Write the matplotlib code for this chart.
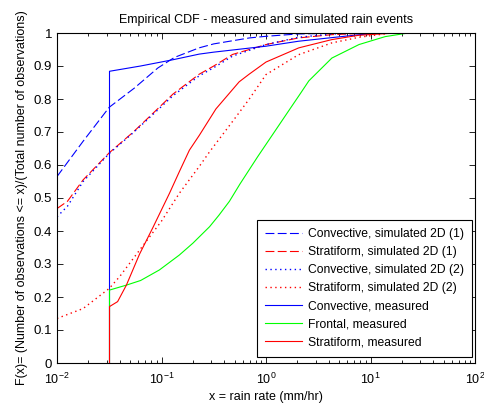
import numpy as np
import matplotlib
matplotlib.use("Agg")
import matplotlib.pyplot as plt
from matplotlib.ticker import FixedLocator, FormatStrFormatter, LogLocator, NullFormatter

plt.rcParams['font.family'] = ['Liberation Sans', 'DejaVu Sans']
plt.rcParams['mathtext.fontset'] = 'custom'
plt.rcParams['mathtext.rm'] = 'Liberation Sans'
plt.rcParams['mathtext.it'] = 'Liberation Sans:italic'
plt.rcParams['mathtext.bf'] = 'Liberation Sans:bold'

# log10 of rain rate, and F(x) values
x0 = 0.0318  # measured curves start here

conv_sim1_lx = [-2.0, -1.75, -1.5, -1.26, -1.035, -0.876, -0.64, -0.5, -0.16, 0.0, 0.3, 0.6, 1.0]
conv_sim1_y = [0.565, 0.672, 0.775, 0.833, 0.894, 0.926, 0.955, 0.967, 0.985, 0.99, 0.997, 0.999, 1.0]

strat_sim1_lx = [-2.0, -1.9, -1.75, -1.5, -1.27, -1.11, -0.89, -0.64, -0.5, -0.32, 0.0, 0.31, 0.63, 1.0]
strat_sim1_y = [0.468, 0.49, 0.555, 0.637, 0.70, 0.748, 0.815, 0.875, 0.90, 0.935, 0.965, 0.985, 0.995, 1.0]

conv_sim2_lx = [-2.0, -1.9, -1.75, -1.5, -1.27, -1.11, -0.89, -0.64, -0.5, -0.32, 0.0, 0.31, 0.63, 0.9]
conv_sim2_y = [0.443, 0.475, 0.55, 0.635, 0.698, 0.745, 0.81, 0.87, 0.895, 0.93, 0.965, 0.987, 0.997, 1.0]

strat_sim2_lx = [-2.0, -1.75, -1.5, -1.4, -1.21, -1.0, -0.83, -0.64, -0.54, -0.32, -0.16, 0.0, 0.31, 0.63, 0.89, 1.2]
strat_sim2_y = [0.135, 0.165, 0.226, 0.262, 0.342, 0.43, 0.514, 0.595, 0.64, 0.732, 0.80, 0.874, 0.934, 0.97, 0.987, 1.0]

conv_meas_lx = [-1.2, -0.89, -0.64, -0.5, 0.0, 0.31, 0.63, 0.9, 1.1]
conv_meas_y = [0.90, 0.919, 0.936, 0.942, 0.96, 0.975, 0.986, 0.995, 1.0]
conv_meas_y0 = 0.884

front_meas_lx = [-1.336, -1.2, -1.02, -0.83, -0.7, -0.54, -0.45, -0.35, -0.25, -0.08, 0.08, 0.24, 0.33, 0.41, 0.63, 0.89, 1.14, 1.36]
front_meas_y = [0.236, 0.25, 0.282, 0.327, 0.363, 0.413, 0.448, 0.49, 0.542, 0.625, 0.70, 0.775, 0.817, 0.855, 0.924, 0.965, 0.989, 1.0]
front_meas_y0 = 0.221

strat_meas_lx = [-1.42, -1.336, -1.21, -1.083, -0.924, -0.829, -0.733, -0.638, -0.479, -0.257, -0.162, 0.0, 0.314, 0.63, 0.886, 1.24]
strat_meas_y = [0.186, 0.236, 0.33, 0.41, 0.514, 0.58, 0.645, 0.69, 0.77, 0.852, 0.875, 0.912, 0.955, 0.98, 0.993, 1.0]
strat_meas_y0 = 0.171


def measured(lx, y, y0):
    xs = [x0, x0] + list(10 ** np.array(lx))
    ys = [0, y0] + list(y)
    return xs, ys


fig = plt.figure(figsize=(4.84, 4.05), dpi=100)
ax = fig.add_axes([57 / 484, 42 / 405, 418 / 484, 330 / 405])

lw = 0.8
ax.plot(10 ** np.array(conv_sim1_lx), conv_sim1_y, color='b', lw=lw, linestyle=(0, (8, 3)),
        label='Convective, simulated 2D (1)')
ax.plot(10 ** np.array(strat_sim1_lx), strat_sim1_y, color='r', lw=lw, linestyle=(0, (8, 3)),
        label='Stratiform, simulated 2D (1)')
ax.plot(10 ** np.array(conv_sim2_lx), conv_sim2_y, color='b', lw=1.0, linestyle=(0, (1, 2.5)),
        label='Convective, simulated 2D (2)')
ax.plot(10 ** np.array(strat_sim2_lx), strat_sim2_y, color='r', lw=1.0, linestyle=(0, (1, 2.5)),
        label='Stratiform, simulated 2D (2)')

xs, ys = measured(conv_meas_lx, conv_meas_y, conv_meas_y0)
ax.plot(xs, ys, color='b', lw=lw, label='Convective, measured')
xs, ys = measured(front_meas_lx, front_meas_y, front_meas_y0)
ax.plot(xs, ys, color='#00ff00', lw=lw, label='Frontal, measured')
xs, ys = measured(strat_meas_lx, strat_meas_y, strat_meas_y0)
ax.plot(xs, ys, color='r', lw=lw, label='Stratiform, measured')

ax.set_xscale('log')
ax.set_xlim(1e-2, 1e2)
ax.set_ylim(0, 1)
ax.yaxis.set_major_locator(FixedLocator(np.arange(0, 1.01, 0.1)))
ax.yaxis.set_major_formatter(FormatStrFormatter('%g'))
ax.xaxis.set_major_locator(LogLocator(base=10, numticks=10))
ax.xaxis.set_minor_locator(LogLocator(base=10, subs=np.arange(2, 10), numticks=10))
ax.xaxis.set_minor_formatter(NullFormatter())
ax.tick_params(which='both', direction='in', top=True, right=True, labelsize=9.5, width=0.6)
ax.tick_params(which='major', length=4)
ax.tick_params(which='minor', length=2.5)
ax.tick_params(axis='x', pad=6, labelsize=9)
for s in ax.spines.values():
    s.set_linewidth(0.8)

ax.set_title('Empirical CDF - measured and simulated rain events', fontsize=9, pad=7)
ax.set_xlabel('x = rain rate (mm/hr)', fontsize=9, labelpad=3)
ax.set_ylabel('F(x)= (Number of observations <= x)/(Total number of observations)', fontsize=9, labelpad=4)

leg = ax.legend(loc='lower right', bbox_to_anchor=(0.993, 0.018), borderaxespad=0,
                fontsize=8.7, fancybox=False, edgecolor='black', framealpha=1,
                handlelength=3.0, handletextpad=0.5, labelspacing=0.5, borderpad=0.7)
leg.get_frame().set_linewidth(0.8)

fig.savefig('out.png', dpi=100)
